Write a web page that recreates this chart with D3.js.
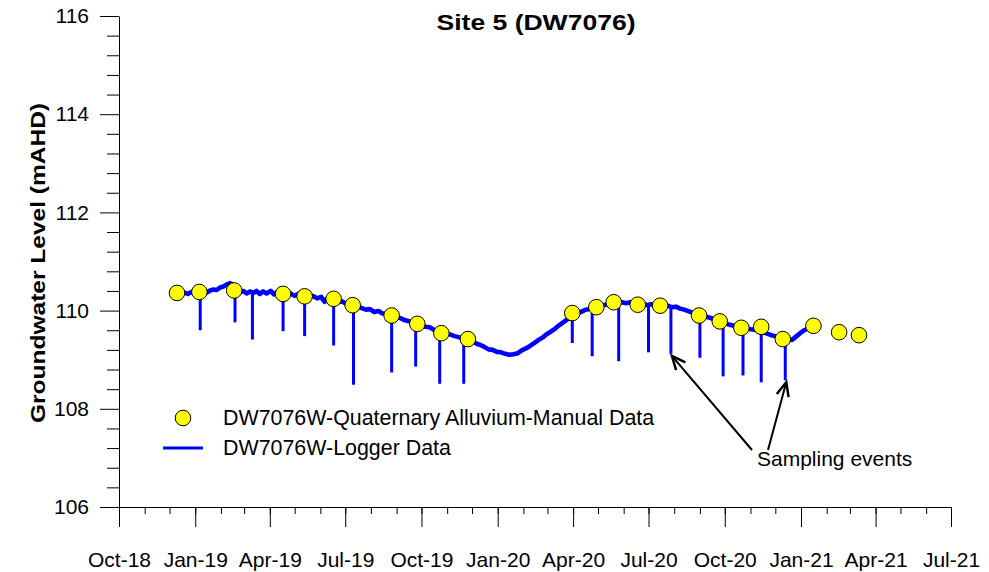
<!DOCTYPE html>
<html>
<head>
<meta charset="utf-8">
<script src="https://cdn.jsdelivr.net/npm/d3@7"></script>
<style>
  body { margin: 0; background: #fff; }
  text { font-family: "Liberation Sans", Arial, sans-serif; fill: #000; }
</style>
</head>
<body>
<svg id="chart" width="989" height="572"></svg>
<script>
// manual dip readings (yellow circles)
const manualDates = ["2018-12-10","2019-01-06","2019-02-17","2019-04-17","2019-05-13","2019-06-17",
  "2019-07-10","2019-08-26","2019-09-26","2019-10-25","2019-11-26","2020-03-31","2020-04-29",
  "2020-05-20","2020-06-18","2020-07-15","2020-08-31","2020-09-25","2020-10-21","2020-11-14",
  "2020-12-10","2021-01-16","2021-02-16","2021-03-12"];
const manualLevels = [110.36,110.38,110.41,110.34,110.29,110.24,110.11,109.90,109.73,109.54,109.42,
  109.95,110.07,110.17,110.12,110.10,109.90,109.78,109.65,109.67,109.42,109.69,109.56,109.50];

// logger trace
const loggerReadings = [
  ["2018-12-10",110.36],["2018-12-14",110.33],["2018-12-18",110.37],["2018-12-23",110.34],["2018-12-28",110.38],
  ["2019-01-02",110.35],["2019-01-07",110.37],["2019-01-11",110.39],["2019-01-15",110.37],["2019-01-19",110.41],
  ["2019-01-23",110.43],["2019-01-27",110.42],["2019-01-31",110.47],["2019-02-04",110.49],["2019-02-08",110.53],
  ["2019-02-12",110.56],["2019-02-16",110.52],["2019-02-20",110.40],["2019-02-24",110.37],["2019-02-28",110.40],
  ["2019-03-04",110.35],["2019-03-08",110.39],["2019-03-12",110.36],["2019-03-16",110.40],["2019-03-20",110.34],
  ["2019-03-24",110.39],["2019-03-28",110.35],["2019-04-02",110.40],["2019-04-06",110.33],["2019-04-10",110.38],
  ["2019-04-14",110.32],["2019-04-18",110.35],["2019-04-22",110.31],["2019-04-26",110.35],["2019-05-01",110.30],
  ["2019-05-05",110.34],["2019-05-09",110.29],["2019-05-13",110.31],["2019-05-18",110.27],["2019-05-23",110.30],
  ["2019-05-28",110.25],["2019-06-02",110.28],["2019-06-06",110.18],["2019-06-09",110.24],["2019-06-13",110.20],
  ["2019-06-17",110.23],["2019-06-22",110.17],["2019-06-27",110.19],["2019-07-02",110.14],["2019-07-06",110.16],
  ["2019-07-11",110.10],["2019-07-16",110.08],["2019-07-21",110.05],["2019-07-26",110.02],["2019-07-31",110.03],
  ["2019-08-05",109.97],["2019-08-10",109.99],["2019-08-15",109.94],["2019-08-20",109.93],["2019-08-26",109.90],
  ["2019-08-31",109.87],["2019-09-05",109.85],["2019-09-10",109.81],["2019-09-15",109.79],["2019-09-20",109.76],
  ["2019-09-26",109.73],["2019-10-01",109.71],["2019-10-06",109.67],["2019-10-11",109.66],["2019-10-16",109.61],
  ["2019-10-21",109.60],["2019-10-26",109.56],["2019-10-31",109.54],["2019-11-05",109.51],["2019-11-10",109.48],
  ["2019-11-15",109.46],["2019-11-20",109.43],["2019-11-26",109.40],["2019-12-01",109.37],["2019-12-06",109.33],
  ["2019-12-11",109.30],["2019-12-16",109.26],["2019-12-21",109.21],["2019-12-26",109.20],["2019-12-31",109.16],
  ["2020-01-05",109.15],["2020-01-10",109.12],["2020-01-15",109.10],["2020-01-20",109.11],["2020-01-25",109.13],
  ["2020-01-30",109.19],["2020-02-04",109.23],["2020-02-09",109.28],["2020-02-14",109.34],["2020-02-19",109.40],
  ["2020-02-24",109.45],["2020-02-29",109.52],["2020-03-05",109.57],["2020-03-10",109.63],["2020-03-15",109.70],
  ["2020-03-20",109.76],["2020-03-25",109.82],["2020-03-31",109.89],["2020-04-05",109.94],["2020-04-10",109.97],
  ["2020-04-15",110.01],["2020-04-20",110.03],["2020-04-25",110.06],["2020-04-30",110.07],["2020-05-05",110.10],
  ["2020-05-10",110.12],["2020-05-15",110.15],["2020-05-20",110.17],["2020-05-25",110.15],["2020-05-30",110.17],
  ["2020-06-04",110.15],["2020-06-09",110.17],["2020-06-14",110.13],["2020-06-19",110.12],["2020-06-24",110.14],
  ["2020-06-29",110.11],["2020-07-04",110.13],["2020-07-09",110.10],["2020-07-14",110.11],["2020-07-19",110.08],
  ["2020-07-24",110.10],["2020-07-29",110.07],["2020-08-03",110.08],["2020-08-08",110.04],["2020-08-13",110.02],
  ["2020-08-18",109.99],["2020-08-23",109.96],["2020-08-28",109.93],["2020-09-02",109.91],["2020-09-07",109.88],
  ["2020-09-12",109.86],["2020-09-17",109.83],["2020-09-22",109.79],["2020-09-27",109.76],["2020-10-02",109.74],
  ["2020-10-07",109.71],["2020-10-12",109.69],["2020-10-17",109.67],["2020-10-22",109.65],["2020-10-27",109.64],
  ["2020-11-01",109.62],["2020-11-06",109.61],["2020-11-11",109.59],["2020-11-16",109.56],["2020-11-21",109.53],
  ["2020-11-26",109.50],["2020-12-01",109.48],["2020-12-06",109.46],["2020-12-11",109.43],["2020-12-16",109.41],
  ["2020-12-21",109.40],["2020-12-26",109.47],["2020-12-31",109.54],["2021-01-05",109.60],["2021-01-10",109.64],
  ["2021-01-16",109.69]
];

// drawdown spikes in the logger at each sampling event
const spikeDates = ["2019-01-07","2019-02-18","2019-03-11","2019-04-17","2019-05-13","2019-06-17","2019-07-11",
  "2019-08-26","2019-09-24","2019-10-23","2019-11-21","2020-03-31","2020-04-24","2020-05-26","2020-07-01",
  "2020-07-28","2020-09-01","2020-09-29","2020-10-23","2020-11-14","2020-12-13"];
const spikeTops = [110.36,110.45,110.37,110.34,110.30,110.22,110.10,109.90,109.74,109.58,109.43,
  109.89,110.05,110.16,110.12,110.07,109.91,109.75,109.65,109.57,109.43];
const spikeBottoms = [109.60,109.76,109.41,109.58,109.48,109.29,108.49,108.74,108.86,108.51,108.51,
  109.34,109.07,108.97,109.15,109.12,109.04,108.66,108.68,108.54,108.58];

const yTicks = [106, 108, 110, 112, 114, 116];
const xStart = "2018-10-01", xEnd = "2021-07-01";
const title = "Site 5 (DW7076)";
const yLabel = "Groundwater Level (mAHD)";
const legendLabels = ["DW7076W-Quaternary Alluvium-Manual Data", "DW7076W-Logger Data"];
const annotation = "Sampling events";
const arrowTargets = ["2020-07-28", "2020-12-13"];

const parse = d3.timeParse("%Y-%m-%d");
const svg = d3.select("#chart");
const margin = { top: 16, right: 38, bottom: 65, left: 119 };
const width = 989 - margin.left - margin.right;
const height = 572 - margin.top - margin.bottom;

const x = d3.scaleTime().domain([parse(xStart), parse(xEnd)]).range([0, width]);
const y = d3.scaleLinear().domain([106, 116]).range([height, 0]);

const g = svg.append("g").attr("transform", `translate(${margin.left},${margin.top})`);

// minor ticks first
const minorY = d3.range(106, 116.01, 0.4).filter(v => Math.abs(v - Math.round(v / 2) * 2) > 0.01);
g.append("g").call(d3.axisLeft(y).tickValues(minorY).tickSize(12).tickFormat("").tickSizeOuter(0))
  .call(a => a.select(".domain").remove());
g.append("g").attr("transform", `translate(0,${height})`)
  .call(d3.axisBottom(x).ticks(d3.timeMonth.every(1)).tickSize(7).tickFormat("").tickSizeOuter(0))
  .call(a => a.select(".domain").remove());

const yAxis = g.append("g").call(d3.axisLeft(y).tickValues(yTicks).tickSize(19).tickPadding(11).tickSizeOuter(0));
yAxis.selectAll("text").style("font-size", "21px");

const xAxis = g.append("g").attr("transform", `translate(0,${height})`)
  .call(d3.axisBottom(x).ticks(d3.timeMonth.every(3)).tickSize(20).tickPadding(25)
    .tickFormat(d3.timeFormat("%b-%y")).tickSizeOuter(0));
xAxis.selectAll("text").style("font-size", "21px");
svg.selectAll(".tick line, .domain").attr("stroke", "#000");

// logger trace (thick, like the dense raw record) and its drawdown spikes
const loggerPts = loggerReadings.map(d => ({ date: parse(d[0]), v: d[1] }));
const line = d3.line().x(d => x(d.date)).y(d => y(d.v));
g.append("path").datum(loggerPts)
  .attr("fill", "none").attr("stroke", "#0000ff").attr("stroke-width", 4.6)
  .attr("stroke-linejoin", "round").attr("d", line);

g.selectAll("line.spike").data(spikeDates.map((d, i) => ({ date: parse(d), top: spikeTops[i], bot: spikeBottoms[i] })))
  .enter().append("line").attr("class", "spike")
  .attr("x1", d => x(d.date)).attr("x2", d => x(d.date))
  .attr("y1", d => y(d.top)).attr("y2", d => y(d.bot))
  .attr("stroke", "#0000ff").attr("stroke-width", 3);

g.selectAll("circle.manual").data(manualDates.map((d, i) => ({ date: parse(d), v: manualLevels[i] })))
  .enter().append("circle").attr("class", "manual")
  .attr("cx", d => x(d.date)).attr("cy", d => y(d.v)).attr("r", 7.8)
  .attr("fill", "#ffff00").attr("stroke", "#000").attr("stroke-width", 1);

// title and y label
svg.append("text").attr("x", 536).attr("y", 30).attr("text-anchor", "middle")
  .style("font-size", "22px").style("font-weight", "bold").attr("textLength", 199)
  .attr("lengthAdjust", "spacingAndGlyphs").text(title);
svg.append("text").attr("transform", "translate(45,263) rotate(-90)").attr("text-anchor", "middle")
  .style("font-size", "21px").style("font-weight", "bold").attr("textLength", 320)
  .attr("lengthAdjust", "spacingAndGlyphs").text(yLabel);

// legend
const leg = svg.append("g");
leg.append("circle").attr("cx", 183).attr("cy", 418).attr("r", 7.8)
  .attr("fill", "#ffff00").attr("stroke", "#000");
leg.append("line").attr("x1", 163).attr("x2", 203).attr("y1", 448).attr("y2", 448)
  .attr("stroke", "#0000ff").attr("stroke-width", 3);
leg.selectAll("text.lg").data(legendLabels).enter().append("text")
  .attr("x", 223).attr("y", (d, i) => 418 + i * 30).attr("dy", "0.35em")
  .style("font-size", "21.4px").text(d => d);

// annotation arrows
const ann = svg.append("g");
ann.append("text").attr("x", 757).attr("y", 466).style("font-size", "21px").text(annotation);
const starts = [[752, 450], [768, 450]];
arrowTargets.forEach((d, i) => {
  const j = spikeDates.indexOf(d);
  const tx = margin.left + x(parse(d)) + 1, ty = margin.top + y(spikeBottoms[j]) + 2;
  const [sx, sy] = starts[i];
  ann.append("line").attr("x1", sx).attr("y1", sy).attr("x2", tx).attr("y2", ty)
    .attr("stroke", "#000").attr("stroke-width", 2);
  const ang = Math.atan2(sy - ty, sx - tx), L = 15, w = 0.42;
  ann.append("path")
    .attr("d", `M${tx + L * Math.cos(ang - w)},${ty + L * Math.sin(ang - w)} L${tx},${ty} L${tx + L * Math.cos(ang + w)},${ty + L * Math.sin(ang + w)}`)
    .attr("fill", "none").attr("stroke", "#000").attr("stroke-width", 2.5);
});
</script>
</body>
</html>
